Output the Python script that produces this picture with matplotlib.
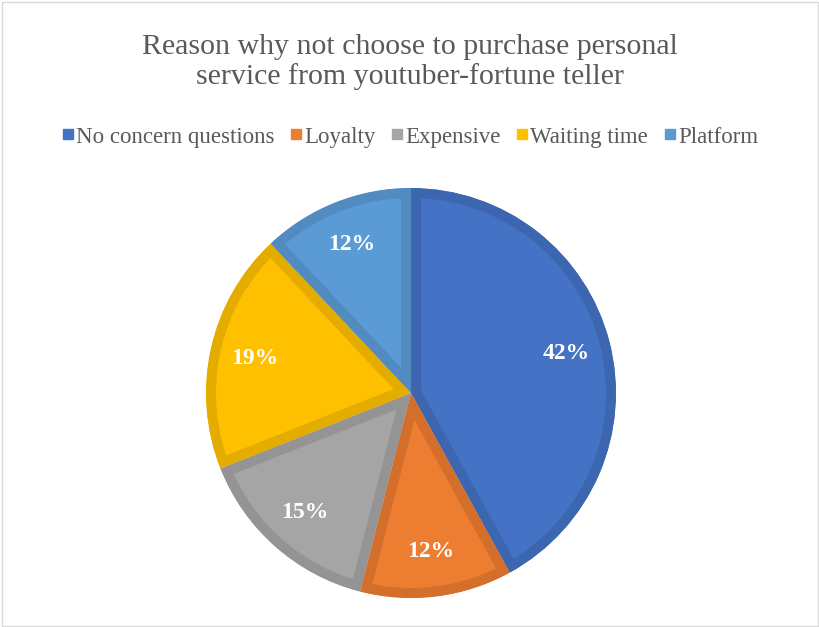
import matplotlib
matplotlib.use("Agg")
import matplotlib.pyplot as plt
from matplotlib.lines import Line2D
from matplotlib.patches import Rectangle

categories = ["No concern questions", "Loyalty", "Expensive", "Waiting time", "Platform"]
values = [42, 12, 15, 19, 12]
colors = ["#4472C4", "#ED7D31", "#A5A5A5", "#FFC000", "#5B9BD5"]
edge_colors = ["#3D66B0", "#D46F2B", "#949494", "#E5AC00", "#518BBF"]
title = "Reason why not choose to purchase personal\nservice from youtuber-fortune teller"

plt.rcParams['font.family'] = ['Liberation Serif', 'DejaVu Serif']

fig = plt.figure(figsize=(8.2, 6.27), dpi=100)
fig.patches.append(Rectangle((0.002, 0.002), 0.996, 0.995, transform=fig.transFigure,
                             fill=False, edgecolor="#D9D9D9", linewidth=1))

ax = fig.add_axes([206 / 820, 29 / 627, 410 / 820, 410 / 627])
wedges, texts = ax.pie(values, colors=colors, startangle=90, counterclock=False,
                       radius=1.0, labels=[f"{v}%" for v in values],
                       labeldistance=0.78,
                       wedgeprops=dict(linewidth=14.4))
ax.set_xlim(-1, 1)
ax.set_ylim(-1, 1)
ax.set_aspect("equal")
ax.axis("off")
for w, ec in zip(wedges, edge_colors):
    w.set_edgecolor(ec)
    w.set_clip_on(True)
    w.set_clip_path(w)
for t in texts:
    t.set_color("white")
    t.set_fontweight("bold")
    t.set_fontsize(17)
    t.set_ha("center")
    t.set_va("center")

fig.text(0.5, 1 - 62 / 627, title, ha="center", va="center", fontsize=21.5,
         color="#595959", linespacing=1.12)

handles = [Line2D([], [], marker="s", linestyle="none", markersize=7.5,
                  markerfacecolor=c, markeredgecolor=c) for c in colors]
fig.legend(handles, categories, loc="center", bbox_to_anchor=(0.5, 1 - 137 / 627),
           ncol=5, frameon=False, fontsize=16.5, handlelength=0.5, handletextpad=0.1,
           columnspacing=0.7, labelcolor="#595959", borderaxespad=0)

fig.savefig("out.png", dpi=100)
